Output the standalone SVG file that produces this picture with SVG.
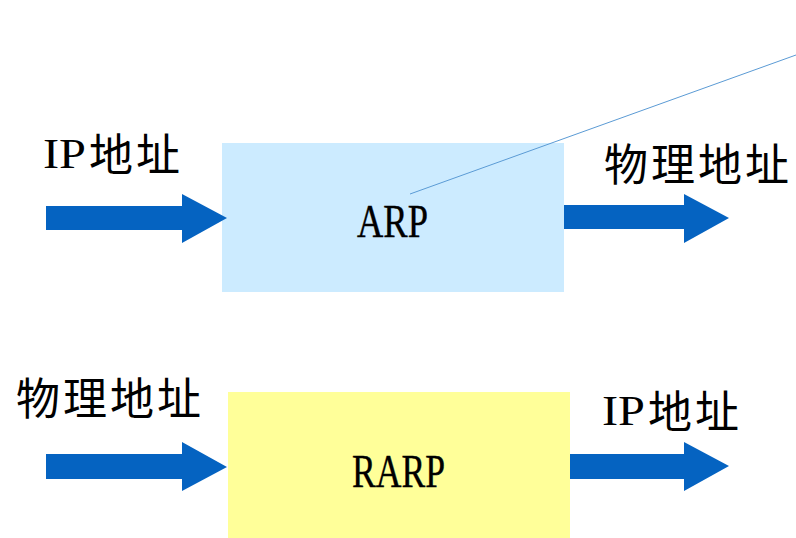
<svg xmlns="http://www.w3.org/2000/svg" width="796" height="538" viewBox="0 0 796 538">
  <style>
    .lat { font-family: "Liberation Serif", "DejaVu Serif", serif; font-size: 43px; fill: #000; }
    .cjk { font-family: "Noto Sans CJK SC", "Noto Sans CJK JP", sans-serif; font-size: 44px; fill: #000; letter-spacing: 3px; }
    .box-label { font-family: "Liberation Serif", "DejaVu Serif", serif; font-size: 47px; fill: #000; stroke: #000; stroke-width: 0.4px; }
    .arrow { fill: #0563C1; }
  </style>
  <rect width="796" height="538" fill="#fff"/>

  <!-- ARP: IP address in, physical address out -->
  <g id="arp">
    <rect x="222" y="143" width="342" height="149" fill="#CCEBFF"/>
    <text class="box-label" x="357" y="237" textLength="71" lengthAdjust="spacingAndGlyphs">ARP</text>
  </g>

  <!-- RARP: physical address in, IP address out -->
  <g id="rarp">
    <rect x="228" y="392" width="342" height="146" fill="#FFFF99"/>
    <text class="box-label" x="352" y="487" textLength="93" lengthAdjust="spacingAndGlyphs">RARP</text>
  </g>

  <g id="arp-input-label">
    <text x="43" y="168"><tspan class="lat" textLength="43" lengthAdjust="spacingAndGlyphs">IP</tspan><tspan class="cjk" x="89" y="171">地址</tspan></text>
  </g>
  <g id="arp-output-label">
    <text class="cjk" x="604" y="181">物理地址</text>
  </g>
  <g id="rarp-input-label">
    <text class="cjk" x="16" y="415">物理地址</text>
  </g>
  <g id="rarp-output-label">
    <text x="602" y="425"><tspan class="lat" textLength="43" lengthAdjust="spacingAndGlyphs">IP</tspan><tspan class="cjk" x="648" y="428">地址</tspan></text>
  </g>

  <!-- connectors -->
  <g id="connectors">
    <polygon class="arrow" points="46,206 182,206 182,194 227,218 182,243 182,230 46,230"/>
    <polygon class="arrow" points="564,205 684,205 684,194 729,218 684,243 684,229 564,229"/>
    <polygon class="arrow" points="46,454 182,454 182,442 227,467 182,491 182,479 46,479"/>
    <polygon class="arrow" points="570,454 684,454 684,442 729,466 684,491 684,479 570,479"/>
    <line x1="410" y1="194" x2="796" y2="55" stroke="#5B9BD5" stroke-width="1"/>
  </g>
</svg>
